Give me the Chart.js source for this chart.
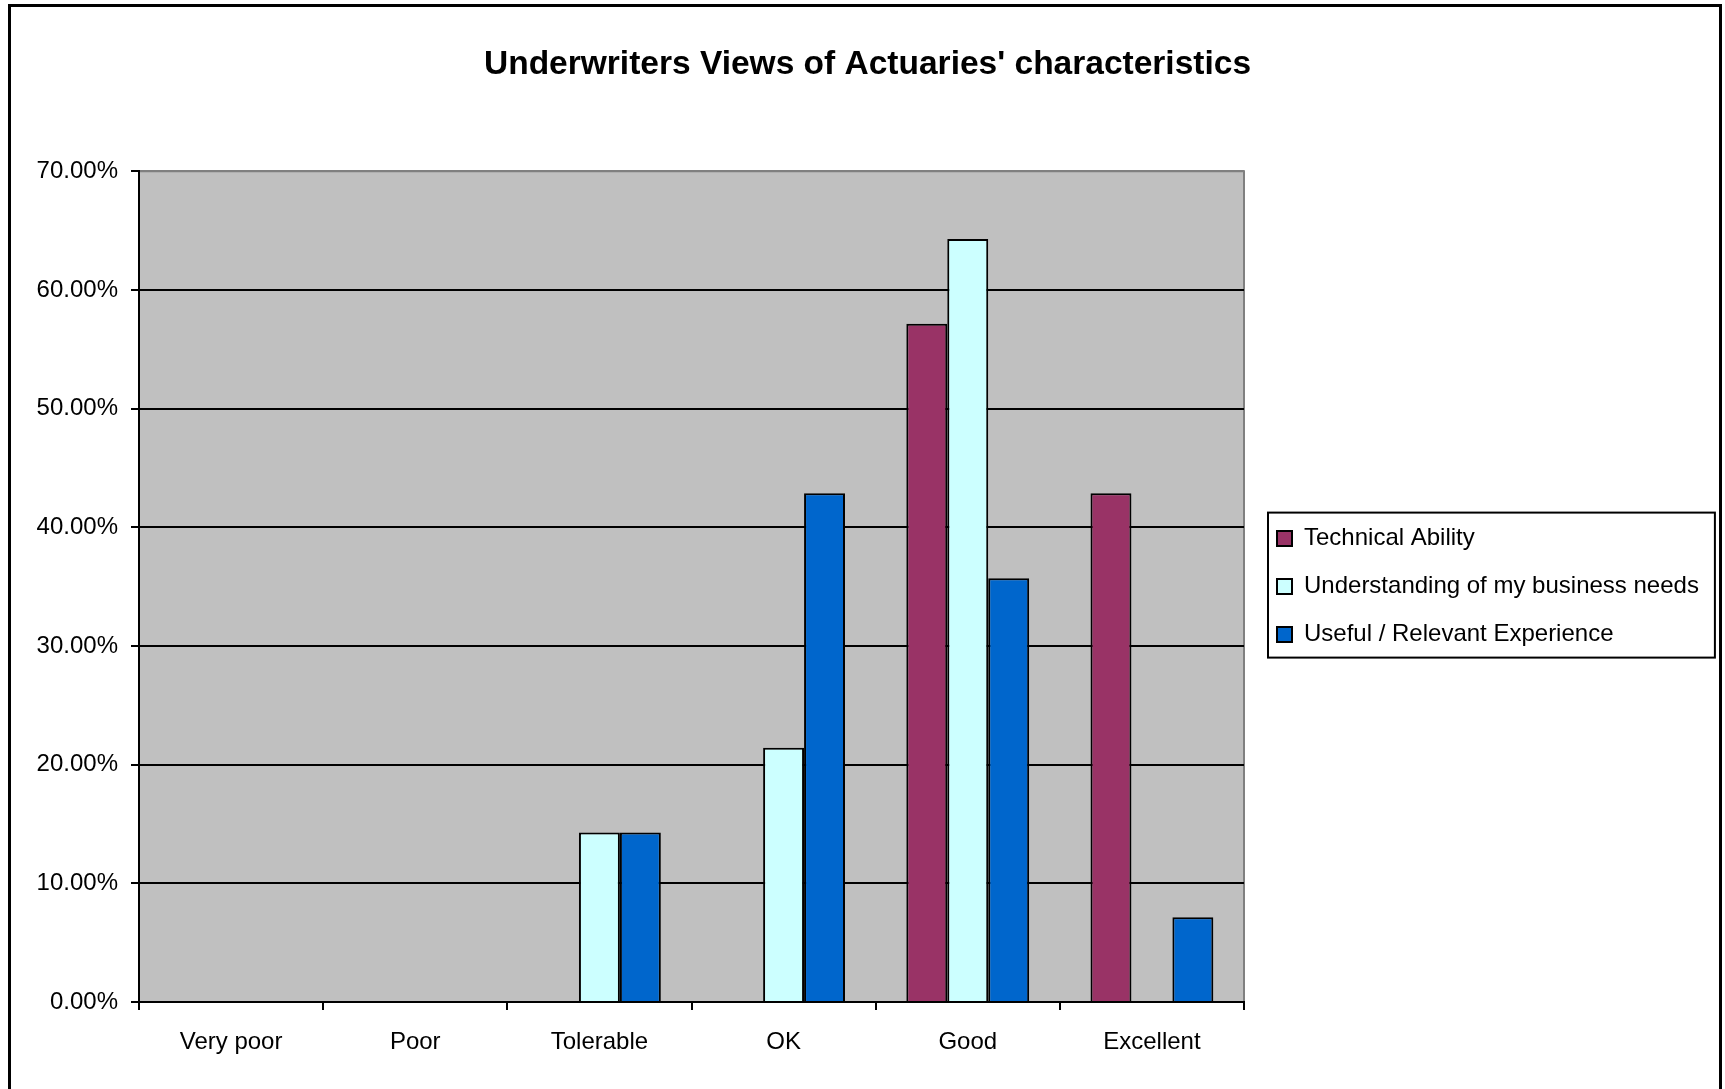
<!DOCTYPE html>
<html>
<head>
<meta charset="utf-8">
<title>Underwriters Views of Actuaries' characteristics</title>
<script src="https://cdn.jsdelivr.net/npm/chart.js@4.4.1/dist/chart.umd.min.js"></script>
<style>
  body { margin: 0; background: #ffffff; }
  canvas { display: block; }
</style>
</head>
<body>
<canvas id="myChart" width="1725" height="1089"></canvas>
<script>
// chart data (percent of underwriters)
var categories = ['Very poor', 'Poor', 'Tolerable', 'OK', 'Good', 'Excellent'];
var technicalAbility = [0, 0, 0, 0, 57.14, 42.86];
var businessNeeds = [0, 0, 14.29, 21.43, 64.29, 0];
var relevantExperience = [0, 0, 14.29, 42.86, 35.71, 7.14];
var seriesNames = ['Technical Ability', 'Understanding of my business needs', 'Useful / Relevant Experience'];
var yMax = 70;
var yStep = 10;

var fontFamily = '"Liberation Sans", Arial, sans-serif';
var legendLeft = 1253;   // where the legend block starts
var innerRight = 1709;   // canvas width minus right padding

// white page, outer frame, grey plot area, legend box
var frameAndPlot = {
    id: 'frameAndPlot',
    beforeDraw: function(chart) {
        var c = chart.ctx, a = chart.chartArea;
        c.save();
        c.fillStyle = '#ffffff';
        c.fillRect(0, 0, chart.width, chart.height);
        c.strokeStyle = '#000000';
        c.lineWidth = 3;
        c.strokeRect(9.5, 5.5, 1711, 1100);
        c.fillStyle = '#c0c0c0';
        c.fillRect(a.left, a.top, a.right - a.left, a.bottom - a.top);
        c.strokeStyle = '#808080';
        c.lineWidth = 2;
        c.beginPath();
        c.moveTo(a.left, a.top);
        c.lineTo(a.right, a.top);
        c.lineTo(a.right, a.bottom);
        c.stroke();
        c.restore();
    },
    afterDraw: function(chart) {
        var boxes = chart.legend.legendHitBoxes;
        if (!boxes || !boxes.length) return;
        var left = boxes[0].left, right = 0;
        boxes.forEach(function(b) {
            left = Math.min(left, b.left);
            right = Math.max(right, b.left + b.width);
        });
        var top = boxes[0].top - 14;
        var last = boxes[boxes.length - 1];
        var bottom = last.top + last.height + 11;
        var c = chart.ctx;
        c.save();
        c.strokeStyle = '#000000';
        c.lineWidth = 2;
        c.strokeRect(left - 9, top, right - left + 25, bottom - top);
        c.restore();
    }
};

var ctx = document.getElementById('myChart').getContext('2d');
var myChart = new Chart(ctx, {
    type: 'bar',
    data: {
        labels: categories,
        datasets: [{
            label: seriesNames[0],
            data: technicalAbility,
            backgroundColor: '#993366',
            borderColor: '#000000',
            borderWidth: 2
        }, {
            label: seriesNames[1],
            data: businessNeeds,
            backgroundColor: '#ccffff',
            borderColor: '#000000',
            borderWidth: 2
        }, {
            label: seriesNames[2],
            data: relevantExperience,
            backgroundColor: '#0066cc',
            borderColor: '#000000',
            borderWidth: 2
        }]
    },
    options: {
        responsive: false,
        animation: false,
        devicePixelRatio: 1,
        categoryPercentage: 0.667,
        barPercentage: 1.0,
        layout: {
            padding: { left: 26, right: 16, top: 10, bottom: 27 }
        },
        plugins: {
            title: {
                display: true,
                text: "Underwriters Views of Actuaries' characteristics",
                color: '#000000',
                font: { family: fontFamily, size: 33.5, weight: 'bold' },
                padding: { top: 35, bottom: 86 }
            },
            legend: {
                position: 'right',
                fullSize: false,
                maxWidth: 470,
                labels: {
                    color: '#000000',
                    font: { family: fontFamily, size: 24 },
                    boxWidth: 15,
                    boxHeight: 15,
                    padding: 24
                }
            },
            tooltip: { enabled: false }
        },
        scales: {
            x: {
                grid: {
                    display: true,
                    drawOnChartArea: false,
                    color: '#000000',
                    lineWidth: 2,
                    tickLength: 8
                },
                border: { color: '#000000', width: 2 },
                ticks: {
                    color: '#000000',
                    font: { family: fontFamily, size: 24 },
                    padding: 18
                },
                afterFit: function(s) { s.height = 60; }
            },
            y: {
                min: 0,
                max: yMax,
                ticks: {
                    stepSize: yStep,
                    color: '#000000',
                    font: { family: fontFamily, size: 24 },
                    padding: 13,
                    callback: function(v) { return v.toFixed(2) + '%'; }
                },
                grid: {
                    color: function(c) { return c.tick && c.tick.value === yMax ? '#808080' : '#000000'; },
                    tickColor: '#000000',
                    lineWidth: 2,
                    tickLength: 8
                },
                border: { color: '#000000', width: 2 },
                afterFit: function(s) { s.width = 113; }
            },
            // empty gap between plot and legend
            gapIn: {
                type: 'linear',
                position: 'right',
                display: true,
                weight: 0,
                grid: { display: false },
                border: { display: false },
                ticks: { display: false },
                afterFit: function(s) { s.width = 9; }
            },
            // empty room right of the legend
            gapOut: {
                type: 'linear',
                position: 'right',
                display: true,
                weight: 2000,
                grid: { display: false },
                border: { display: false },
                ticks: { display: false },
                afterFit: function(s) {
                    var lw = s.chart.legend ? s.chart.legend.width : 456;
                    s.width = Math.max(0, innerRight - legendLeft - lw);
                }
            }
        }
    },
    plugins: [frameAndPlot]
});
</script>
</body>
</html>
